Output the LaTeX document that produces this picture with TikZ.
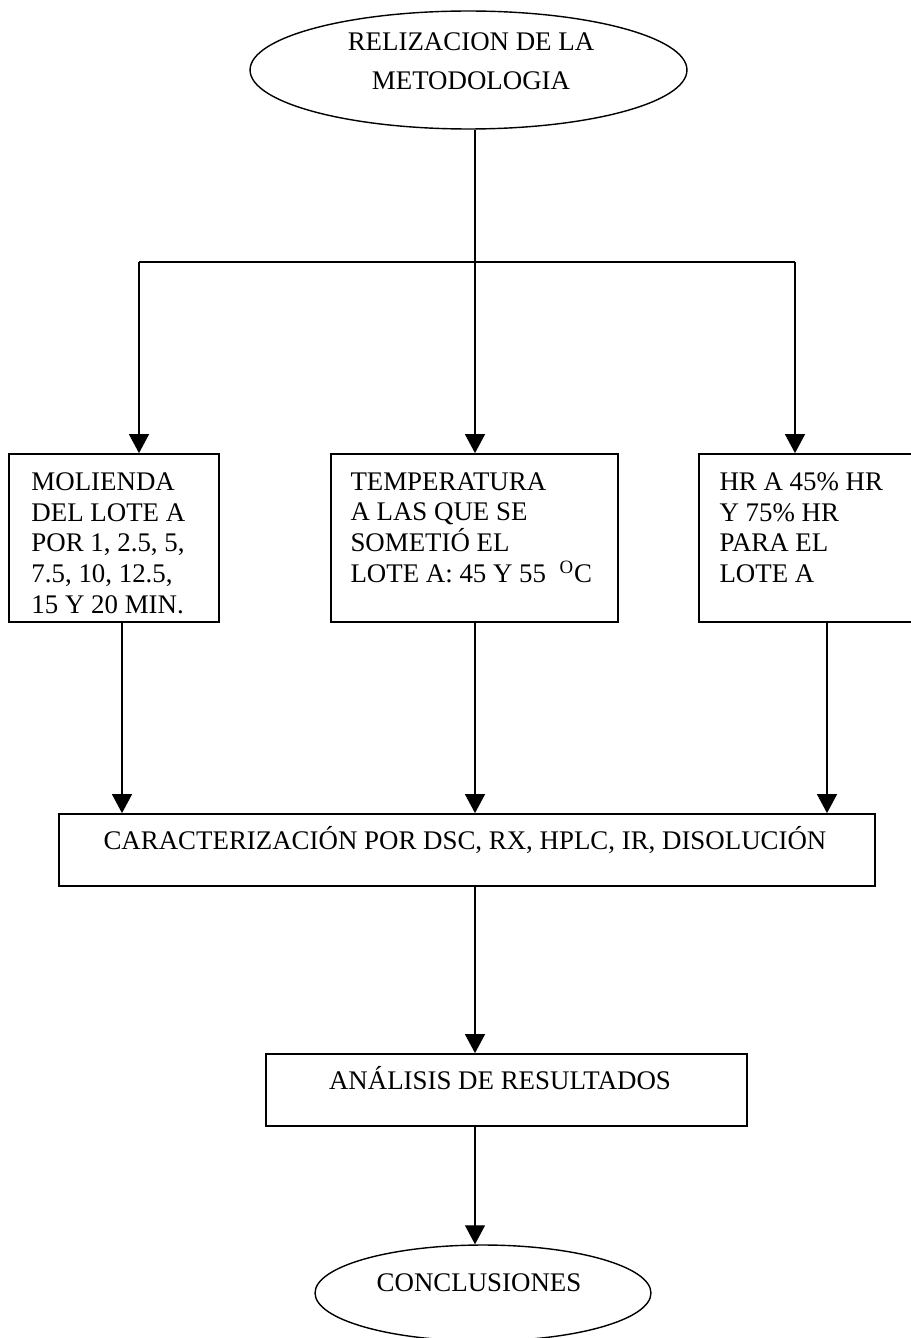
\documentclass[tikz,border=0pt]{standalone}
\usepackage{fontspec}
\setmainfont{Liberation Serif}
\usetikzlibrary{shapes.geometric,arrows.meta,positioning}

\tikzset{
  caja/.style={draw, line width=1pt, inner sep=0pt},
  ovalo/.style={draw, ellipse, line width=0.8pt, inner sep=0pt},
  texto/.style={anchor=north west, align=left, inner sep=0pt},
  linea/.style={line width=0.7pt},
  flecha/.style={->, line width=0.7pt},
}

\begin{document}
\begin{tikzpicture}[x=0.02cm, y=-0.02cm, >={Triangle[width=0.4cm,length=0.38cm]},
    font=\fontsize{15.3}{17.5}\selectfont]
        \useasboundingbox (0,0) rectangle (910,1338);

        % start ellipse
        \node[ovalo, minimum width=8.74cm, minimum height=2.36cm,
          label={[align=center, anchor=north, inner sep=0pt, xshift=0.05cm, yshift=-0.44cm,
            font=\fontsize{15.3}{22.2}\selectfont]north:RELIZACION DE LA\\METODOLOGIA}]
          (inicio) at (468.5,70) {};

        % branch points
        \coordinate (ramal) at (475,262);
        \coordinate (izq) at (139,262);
        \coordinate (der) at (795,262);

        % three boxes
        \node[caja, minimum width=4.2cm, minimum height=3.36cm,
          label={[texto, xshift=0.46cm, yshift=-0.38cm]north west:MOLIENDA\\DEL LOTE A\\POR 1, 2.5, 5,\\7.5, 10, 12.5,\\15 Y 20 MIN.}]
          (molienda) at (114,538) {};
        \node[caja, minimum width=5.74cm, minimum height=3.36cm,
          label={[texto, xshift=0.4cm, yshift=-0.38cm]north west:TEMPERATURA\\A LAS QUE SE\\SOMETIÓ EL\\LOTE A: 45 Y 55 \ \textsuperscript{O}C}]
          (temperatura) at (474.5,538) {};
        \node[caja, minimum width=5.12cm, minimum height=3.36cm,
          label={[texto, xshift=0.42cm, yshift=-0.38cm]north west:HR A 45\% HR\\Y 75\% HR\\PARA EL\\LOTE A}]
          (humedad) at (827,538) {};

        % characterization and analysis boxes
        \node[caja, minimum width=16.32cm, minimum height=1.44cm,
          label={[anchor=base, inner sep=0pt, xshift=-0.04cm, yshift=-0.72cm]north:CARACTERIZACIÓN POR DSC, RX, HPLC, IR, DISOLUCIÓN}]
          (caract) at (467,850) {};
        \node[caja, minimum width=9.62cm, minimum height=1.44cm,
          label={[anchor=base, inner sep=0pt, xshift=-0.13cm, yshift=-0.72cm]north:ANÁLISIS DE RESULTADOS}]
          (analisis) at (506.5,1090) {};

        % end ellipse
        \node[ovalo, minimum width=6.72cm, minimum height=1.92cm,
          label={[anchor=base, inner sep=0pt, xshift=-0.08cm, yshift=-0.94cm]north:CONCLUSIONES}]
          (conclusiones) at (483,1293) {};

        % Arrows
        \draw[linea] (inicio.south -| ramal) -- (ramal);
        \draw[linea] (izq) -- (der);
        \draw[flecha] (izq) -- (izq |- molienda.north);
        \draw[flecha] (ramal) -- (ramal |- temperatura.north);
        \draw[flecha] (der) -- (der |- humedad.north);

        \draw[flecha] ([xshift=0.16cm]molienda.south) -- ([xshift=0.16cm]molienda.south |- caract.north);
        \draw[flecha] (ramal |- temperatura.south) -- (ramal |- caract.north);
        \draw[flecha] (humedad.south) -- (humedad.south |- caract.north);

        \draw[flecha] (ramal |- caract.south) -- (ramal |- analisis.north);
        \draw[flecha] (ramal |- analisis.south) -- (ramal |- conclusiones.north);
    \end{tikzpicture}
\end{document}
